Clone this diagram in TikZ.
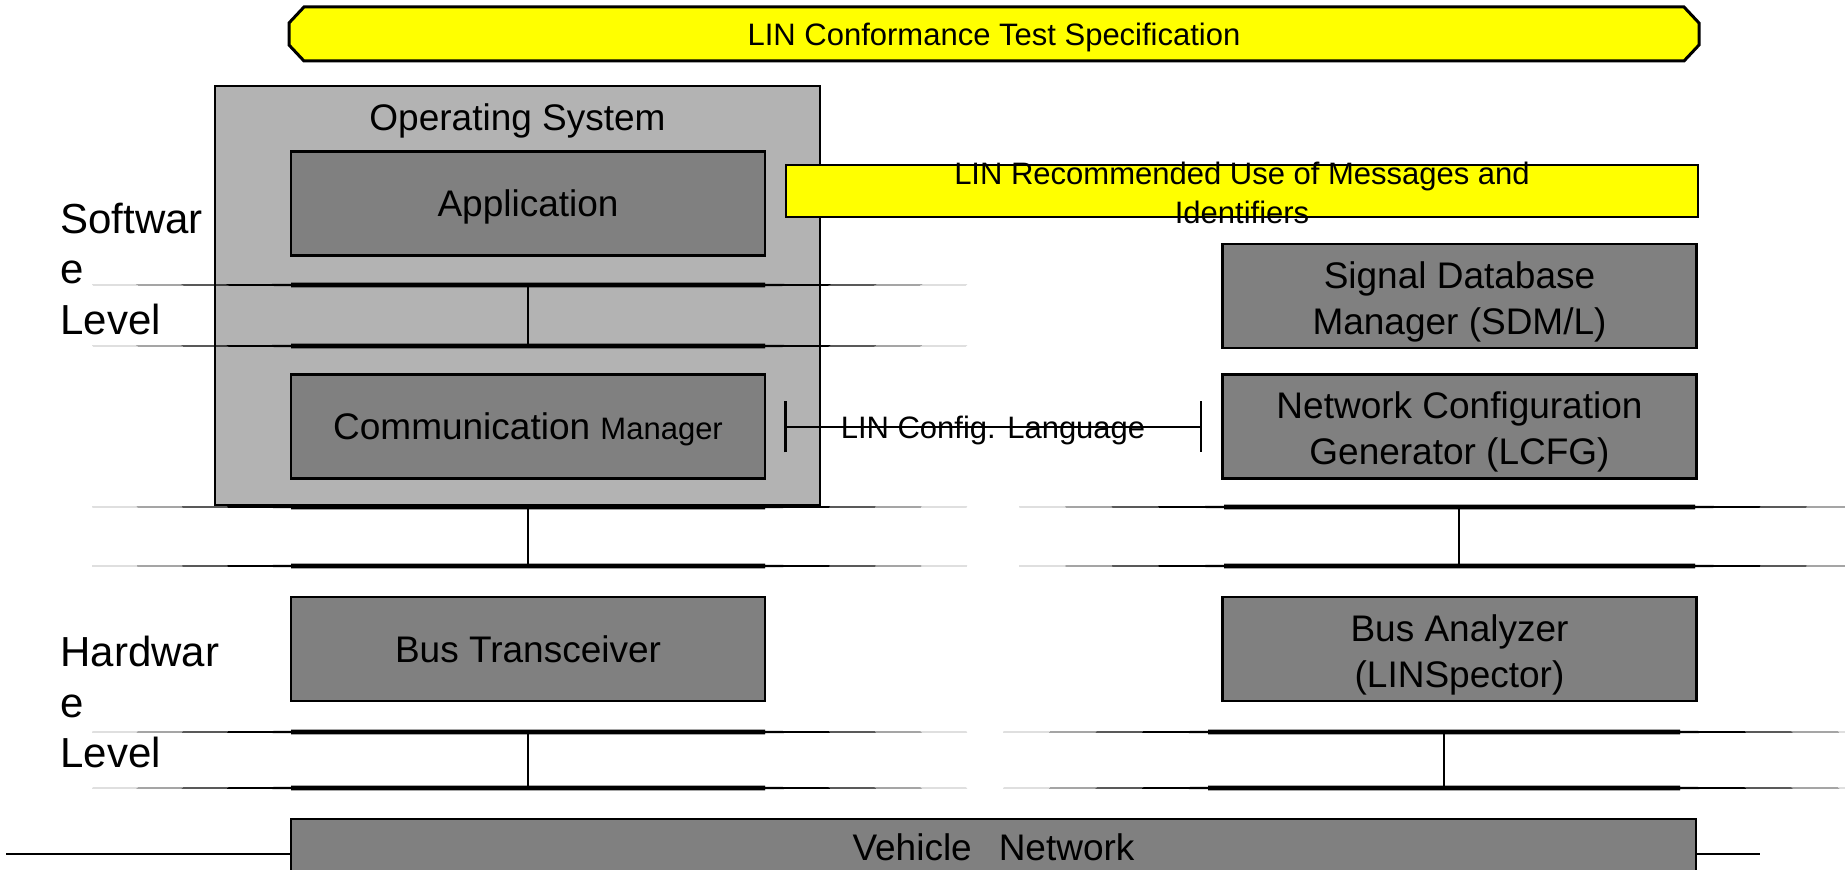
\documentclass[tikz,border=0pt]{standalone}
\usepackage{fontspec}
\setmainfont{Liberation Sans}
\usetikzlibrary{arrows.meta}
\definecolor{osgray}{HTML}{B3B3B3}
\definecolor{boxgray}{HTML}{808080}
\definecolor{lyellow}{HTML}{FFFF00}
\newcommand\fsA{\fontsize{18.5}{23}\selectfont}
\newcommand\fsB{\fontsize{15.5}{18.85}\selectfont}
\newcommand\fsR{\fontsize{15.5}{19.5}\selectfont}
\newcommand\fsC{\fontsize{21}{25.25}\selectfont}
\newcommand\topstrut{\rule{0pt}{19pt}}
\newcommand\buslens[5]{%
  \fill[black] ({#1},{#5}) -- ({#2},{#5-1.1}) -- ({#2},{#5-2.3}) -- ({#3},{#5-2.3}) -- ({#3},{#5-1.1}) -- ({#4},{#5})
    -- ({#3},{#5+1.1}) -- ({#3},{#5+2.3}) -- ({#2},{#5+2.3}) -- ({#2},{#5+1.1}) -- cycle;}
\begin{document}
\begin{tikzpicture}[x=0.5pt,y=-0.5pt,
  box/.style={draw=black, line width=1.2pt, fill=boxgray, inner sep=0pt, font=\fsA, align=center},
  osbox/.style={draw=black, line width=1.2pt, fill=osgray, inner sep=0pt},
  ybox/.style={draw=black, line width=1.2pt, fill=lyellow, inner sep=0pt},
  bannerline/.style={draw=black, line width=1.5pt, fill=lyellow, line join=miter},
  wbox/.style={minimum width=237pt, minimum height=52pt},
  vline/.style={draw=black, line width=1.3pt},
  hline/.style={draw=black, line width=1.25pt},
  lbl/.style={anchor=north west, font=\fsC, align=left, inner sep=0pt}]
\path[fill=white, use as bounding box] (0,0) rectangle (1845,870);

% banner (chamfered outline, then its text node)
\coordinate (bnw) at (289,7);
\coordinate (bse) at (1699,61);
\path[bannerline] ([xshift=7.5pt]bnw) -- ([xshift=-7.5pt]bnw -| bse) -- ([yshift=-8pt]bnw -| bse)
  -- ([yshift=8pt]bse) -- ([xshift=-7.5pt]bse) -- ([xshift=7.5pt]bnw |- bse)
  -- ([yshift=8pt]bnw |- bse) -- ([yshift=-8pt]bnw) -- cycle;
\node[inner sep=0pt, font=\fsB, text depth=0pt] (banner) at (994,34) {LIN Conformance Test Specification};

% operating system
\node[osbox, minimum width=302.5pt, minimum height=209.5pt] (os) at (517.5,295.5) {};
\node[anchor=base, font=\fsA, inner sep=0pt] (ostext) at (517.5,131) {Operating System};
\node[box, wbox, text depth=0pt] (app) at (528,203.5) {Application};
\node[box, wbox, text depth=0pt] (cm) at (528,426.5) {Communication {\fsB Manager}};

% recommended use box
\node[ybox, minimum width=456pt, minimum height=26pt] (rec) at (1242,191) {};
\node[font=\fsR, align=center, inner sep=0pt] (rectext) at ([yshift=-0.8pt]rec.center) {LIN Recommended Use of Messages and\\Identifiers};

% right column
\node[box, wbox] (sdm) at (1459.5,296) {\topstrut Signal Database\\Manager (SDM/L)};
\node[box, wbox] (lcfg) at (1459.5,426.5) {\topstrut Network Configuration\\Generator (LCFG)};
\node[box, wbox] (ba) at (1459.5,649) {\topstrut Bus Analyzer\\(LINSpector)};
\node[box, wbox, text depth=0pt] (bt) at (528,649) {Bus Transceiver};

% vehicle network
\node[box, minimum width=702.5pt, minimum height=28pt, text depth=0pt] (veh) at (993.5,847) {Vehicle\hspace{0.73em}Network};
\coordinate (vl) at (6,854);
\coordinate (vr) at (1760,854);
\draw[hline] (vl) -- (vl -| veh.west);
\draw[hline] (veh.east |- vr) -- (vr);

% level labels
\node[lbl] (sw) at (60,202.5) {Softwar\\e\\Level};
\node[lbl] (hw) at (60,636) {Hardwar\\e\\Level};

% bus lines
\buslens{92}{291}{765}{967}{285}
\buslens{92}{291}{765}{967}{346}
\coordinate (a1) at (528,285); \coordinate (a2) at (528,346);
\draw[vline] (a1) -- (a2);

\buslens{92}{291}{765}{967}{507}
\buslens{92}{291}{765}{967}{566}
\coordinate (b1) at (528,507); \coordinate (b2) at (528,566);
\draw[vline] (b1) -- (b2);

\buslens{1019}{1224}{1695}{1899}{507}
\buslens{1019}{1224}{1695}{1899}{566}
\coordinate (c1) at (1459,507); \coordinate (c2) at (1459,566);
\draw[vline] (c1) -- (c2);

\buslens{92}{291}{765}{967}{732}
\buslens{92}{291}{765}{967}{788}
\coordinate (d1) at (528,732); \coordinate (d2) at (528,788);
\draw[vline] (d1) -- (d2);

\buslens{1003}{1208}{1680}{1885}{732}
\buslens{1003}{1208}{1680}{1885}{788}
\coordinate (e1) at (1444,732); \coordinate (e2) at (1444,788);
\draw[vline] (e1) -- (e2);

% config language connector
\coordinate (cfgL) at (784,427);
\coordinate (cfgR) at (1202,427);
\draw[hline, {Bar[width=25.5pt]}-{Bar[width=25.5pt]}] (cfgL) -- node[font=\fsB, text depth=0pt, inner sep=0pt] (cfgtext) {LIN Config. Language} (cfgR);
\end{tikzpicture}
\end{document}
